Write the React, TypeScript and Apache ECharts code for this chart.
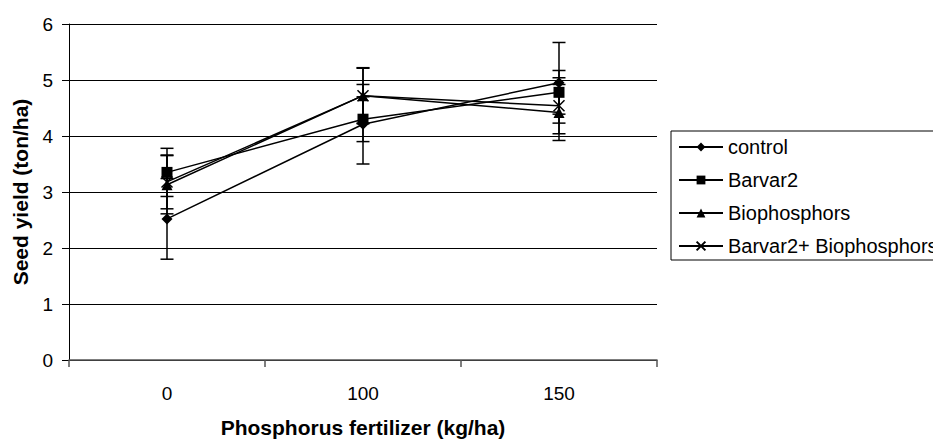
import React, { useEffect, useRef } from "react";
import * as echarts from "echarts";

const categories = ["0", "100", "150"];
const seriesNames = ["control", "Barvar2", "Biophosphors", "Barvar2+ Biophosphors"];
const controlValues = [2.52, 4.21, 4.95];
const controlErrors = [0.72, 0.71, 0.72];
const barvarValues = [3.35, 4.3, 4.78];
const barvarErrors = [0.43, 0.4, 0.39];
const bioValues = [3.13, 4.72, 4.42];
const bioErrors = [0.52, 0.5, 0.5];
const comboValues = [3.18, 4.72, 4.54];
const comboErrors = [0.48, 0.49, 0.5];
const yTicks = [0, 1, 2, 3, 4, 5, 6];

const FONT = "'Liberation Sans', Arial, sans-serif";
const crossPath = "path://M0,0L10,10M10,0L0,10";

export default function App() {
  const ref = useRef<HTMLDivElement>(null);
  useEffect(() => {
    if (!ref.current) return;
    const chart = echarts.init(ref.current, undefined, { renderer: "svg" });
    const valueSets = [controlValues, barvarValues, bioValues, comboValues];
    const errorSets = [controlErrors, barvarErrors, bioErrors, comboErrors];
    const symbols = ["diamond", "rect", "triangle", crossPath];
    const sizes = [11, 11, 11, 11];
    const errData: number[][] = [];
    valueSets.forEach((vals, s) => {
      vals.forEach((v, i) => {
        errData.push([i, v - errorSets[s][i], v + errorSets[s][i]]);
      });
    });
    const lineSeries = seriesNames.map((name, s) => ({
      name,
      type: "line",
      data: valueSets[s],
      symbol: symbols[s],
      symbolSize: sizes[s],
      z: 5,
      lineStyle: { color: "#000", width: 1.5 },
      itemStyle: {
        color: "#000",
        borderColor: "#000",
        borderWidth: s === 3 ? 1.5 : 0,
      },
    }));
    chart.setOption({
      animation: false,
      backgroundColor: "#fff",
      textStyle: { fontFamily: FONT },
      grid: { left: 69, top: 24, right: 276, bottom: 77, containLabel: false },
      legend: {
        data: seriesNames,
        orient: "vertical",
        left: 671,
        top: 131,
        padding: [6, 40, 4, 7],
        itemWidth: 44,
        itemHeight: 11,
        itemGap: 13,
        borderColor: "#000",
        borderWidth: 1,
        backgroundColor: "#fff",
        textStyle: { fontFamily: FONT, fontSize: 20, color: "#000", lineHeight: 20 },
      },
      xAxis: {
        type: "category",
        data: categories,
        boundaryGap: true,
        name: "Phosphorus fertilizer (kg/ha)",
        nameLocation: "middle",
        nameGap: 57,
        nameTextStyle: { fontFamily: FONT, fontSize: 21, fontWeight: "bold", color: "#000" },
        axisLine: { lineStyle: { color: "#555", width: 1.5 } },
        axisTick: { show: true, length: 7, lineStyle: { color: "#555", width: 1.5 } },
        axisLabel: { color: "#000", fontSize: 19, fontFamily: FONT, margin: 24 },
        splitLine: { show: false },
      },
      yAxis: {
        type: "value",
        min: yTicks[0],
        max: yTicks[yTicks.length - 1],
        interval: 1,
        name: "Seed yield (ton/ha)",
        nameLocation: "middle",
        nameGap: 38,
        nameTextStyle: { fontFamily: FONT, fontSize: 21, fontWeight: "bold", color: "#000" },
        axisLine: { show: true, lineStyle: { color: "#000", width: 1 } },
        axisTick: { show: true, length: 7, lineStyle: { color: "#000" } },
        axisLabel: { color: "#000", fontSize: 19, fontFamily: FONT, margin: 16 },
        splitLine: { show: true, lineStyle: { color: "#000", width: 1 } },
      },
      series: [
        {
          type: "custom",
          name: "errors",
          data: errData,
          encode: { x: 0, y: [1, 2] },
          z: 3,
          renderItem: (params: any, api: any) => {
            const x = api.value(0);
            const lo = api.coord([x, api.value(1)]);
            const hi = api.coord([x, api.value(2)]);
            const half = 6.5;
            const style = { stroke: "#000", lineWidth: 1.5 };
            return {
              type: "group",
              children: [
                { type: "line", shape: { x1: hi[0], y1: hi[1], x2: lo[0], y2: lo[1] }, style },
                { type: "line", shape: { x1: hi[0] - half, y1: hi[1], x2: hi[0] + half, y2: hi[1] }, style },
                { type: "line", shape: { x1: lo[0] - half, y1: lo[1], x2: lo[0] + half, y2: lo[1] }, style },
              ],
            };
          },
        },
        ...lineSeries,
      ],
    });
    return () => chart.dispose();
  }, []);
  return (
    <div
      ref={ref}
      style={{ position: "fixed", left: 0, top: 0, width: 933, height: 443, background: "#fff" }}
    />
  );
}
